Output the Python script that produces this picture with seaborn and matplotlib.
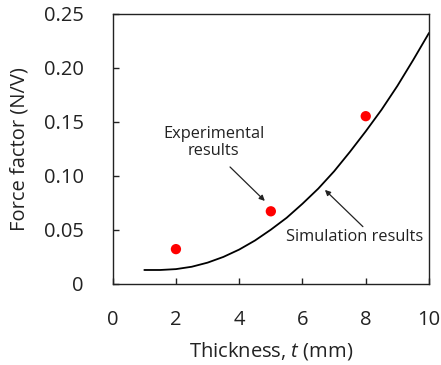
import matplotlib
matplotlib.use("Agg")
import matplotlib.pyplot as plt
import seaborn as sns
import pandas as pd

# Simulation curve
sim_t = [1.0, 1.5, 2.0, 2.5, 3.0, 3.5, 4.0, 4.5, 5.0, 5.5, 6.0, 6.5, 7.0, 7.5, 8.0, 8.5, 9.0, 9.5, 10.0]
sim_f = [0.0127, 0.0127, 0.0135, 0.0157, 0.0195, 0.0248, 0.0316, 0.0400, 0.0500, 0.0610,
         0.0740, 0.0880, 0.1040, 0.1220, 0.1410, 0.1610, 0.1830, 0.2070, 0.2320]

# Experimental results
exp_t = [2, 5, 8]
exp_f = [0.032, 0.067, 0.155]

x_ticks = [0, 2, 4, 6, 8, 10]
y_ticks = [0, 0.05, 0.10, 0.15, 0.20, 0.25]
y_tick_labels = ["0", "0.05", "0.10", "0.15", "0.20", "0.25"]

sns.set_style("ticks")
plt.rcParams['font.family'] = ['Open Sans', 'DejaVu Sans']
plt.rcParams['mathtext.fontset'] = 'custom'
plt.rcParams['mathtext.it'] = 'Open Sans:italic'
plt.rcParams['mathtext.rm'] = 'Open Sans'

fig = plt.figure(figsize=(4.41, 3.65), dpi=100)
ax = fig.add_axes([0.2555, 0.2227, 0.9728 - 0.2555, 0.963 - 0.2227])

sim_df = pd.DataFrame({"t": sim_t, "f": sim_f})
exp_df = pd.DataFrame({"t": exp_t, "f": exp_f})

sns.lineplot(data=sim_df, x="t", y="f", ax=ax, color="black", linewidth=1.3)
sns.scatterplot(data=exp_df, x="t", y="f", ax=ax, color="#ff0000", s=55,
                edgecolor="none", zorder=3)

txt = "#222222"
ax.set_xlim(0, 10)
ax.set_ylim(0, 0.25)
ax.set_xticks(x_ticks)
ax.set_yticks(y_ticks)
ax.set_yticklabels(y_tick_labels)
ax.tick_params(direction="in", length=4, width=1.0, labelsize=14.5, colors=txt)
ax.tick_params(axis="y", pad=21)
ax.tick_params(axis="x", pad=19)
for s in ax.spines.values():
    s.set_linewidth(1.0)
    s.set_color(txt)
    s.set_visible(True)

ax.set_xlabel(r"Thickness, $t$ (mm)", fontsize=14.5, color=txt, labelpad=7)
ax.set_ylabel("Force factor (N/V)", fontsize=14.5, color=txt, labelpad=10)

ax.text(3.2, 0.131, "Experimental\nresults", ha="center", va="center",
        fontsize=11.8, color=txt, linespacing=1.1)
ax.annotate("", xy=(4.81, 0.0766), xytext=(3.71, 0.108),
            arrowprops=dict(arrowstyle="-|>", color=txt, lw=0.9,
                            mutation_scale=8, shrinkA=0, shrinkB=0))
ax.text(7.66, 0.043, "Simulation results", ha="center", va="center",
        fontsize=11.8, color=txt)
ax.annotate("", xy=(6.71, 0.0868), xytext=(7.91, 0.0528),
            arrowprops=dict(arrowstyle="-|>", color=txt, lw=0.9,
                            mutation_scale=8, shrinkA=0, shrinkB=0))

fig.savefig("out.png", dpi=100)
